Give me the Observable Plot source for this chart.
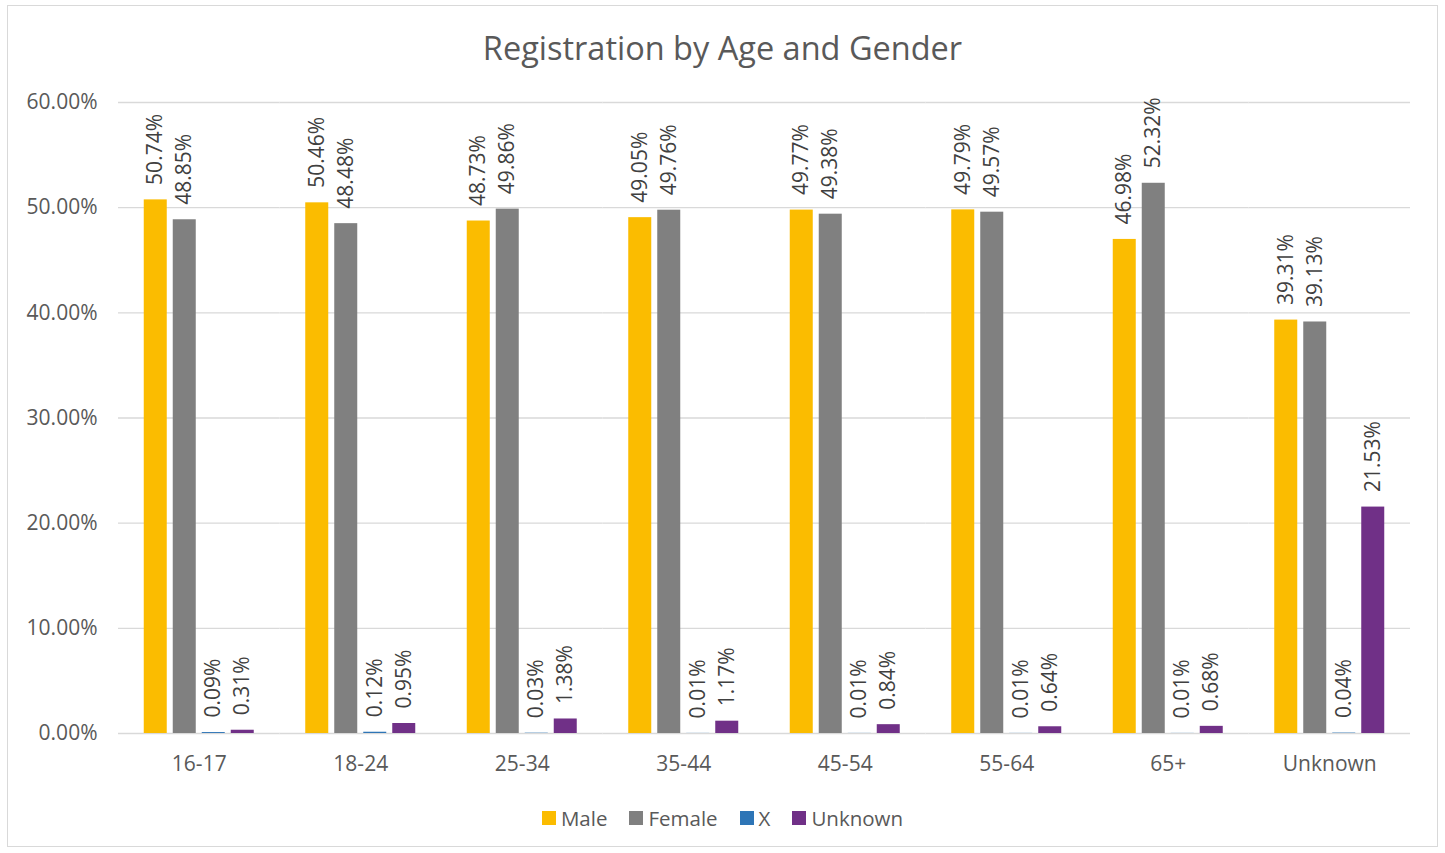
<!DOCTYPE html>
<html>
<head>
<meta charset="utf-8">
<script src="https://cdn.jsdelivr.net/npm/d3@7"></script>
<script src="https://cdn.jsdelivr.net/npm/@observablehq/plot@0.6"></script>
<style>
  html, body { margin: 0; padding: 0; background: #fff; }
  body { width: 1445px; height: 853px; position: relative; overflow: hidden; font-family: "Open Sans", sans-serif; color: #595959; }
  #frame { position: absolute; left: 7px; top: 5px; width: 1431px; height: 842px; border: 1px solid #d9d9d9; box-sizing: border-box; }
  #title { position: absolute; left: 0; width: 1445px; top: 26px; text-align: center; font-size: 32.5px; line-height: 44px; color: #595959; }
  #chart { position: absolute; left: 0; top: 80px; }
  #legend { position: absolute; left: 0; width: 1445px; top: 803px; display: flex; justify-content: center; gap: 22px; font-size: 20.5px; line-height: 30px; color: #595959; }
  .item { display: flex; align-items: center; }
  .sw { width: 14px; height: 14px; margin-right: 5px; }
</style>
</head>
<body>
<div id="frame"></div>
<div id="title">Registration by Age and Gender</div>
<div id="chart"></div>
<div id="legend"></div>
<script>
const categories = ["16-17", "18-24", "25-34", "35-44", "45-54", "55-64", "65+", "Unknown"];
const series = ["Male", "Female", "X", "Unknown"];
const colors = ["#FBBC00", "#808080", "#2E75B6", "#703087"];
const male    = [50.74, 50.46, 48.73, 49.05, 49.77, 49.79, 46.98, 39.31];
const female  = [48.85, 48.48, 49.86, 49.76, 49.38, 49.57, 52.32, 39.13];
const xGender = [0.09, 0.12, 0.03, 0.01, 0.01, 0.01, 0.01, 0.04];
const unknown = [0.31, 0.95, 1.38, 1.17, 0.84, 0.64, 0.68, 21.53];
const yTicks = [0, 10, 20, 30, 40, 50, 60];

const valuesBySeries = [male, female, xGender, unknown];
const data = [];
categories.forEach((c, i) => {
  series.forEach((s, j) => {
    data.push({category: c, series: s, value: valuesBySeries[j][i]});
  });
});

const fmt = d => d.toFixed(2) + "%";

const plot = Plot.plot({
  width: 1445,
  height: 710,
  marginLeft: 118,
  marginRight: 35,
  marginTop: 22,
  marginBottom: 57,
  style: {fontFamily: "'Open Sans', sans-serif", fontSize: "21px", color: "#595959", background: "transparent"},
  fx: {domain: categories, padding: 0, round: false, label: null, tickSize: 0, tickPadding: 23, axis: "bottom"},
  x: {domain: series, paddingInner: 0.207, paddingOuter: 0.888, round: false, axis: null},
  y: {domain: [0, 60], ticks: yTicks, tickFormat: fmt, label: null, tickSize: 0, tickPadding: 21},
  color: {domain: series, range: colors},
  marks: [
    Plot.ruleY(yTicks, {stroke: "#d9d9d9", strokeWidth: 1.3}),
    Plot.barY(data, {fx: "category", x: "series", y: "value", fill: "series"}),
    Plot.text(data, {fx: "category", x: "series", y: "value", text: d => fmt(d.value), rotate: -90, textAnchor: "start", lineAnchor: "middle", dy: -15, fill: "#404040", fontSize: 21})
  ]
});
document.getElementById("chart").appendChild(plot);

const legend = document.getElementById("legend");
series.forEach((s, j) => {
  const item = document.createElement("div");
  item.className = "item";
  const sw = document.createElement("span");
  sw.className = "sw";
  sw.style.background = colors[j];
  const lab = document.createElement("span");
  lab.textContent = s;
  item.appendChild(sw);
  item.appendChild(lab);
  legend.appendChild(item);
});
</script>
</body>
</html>
